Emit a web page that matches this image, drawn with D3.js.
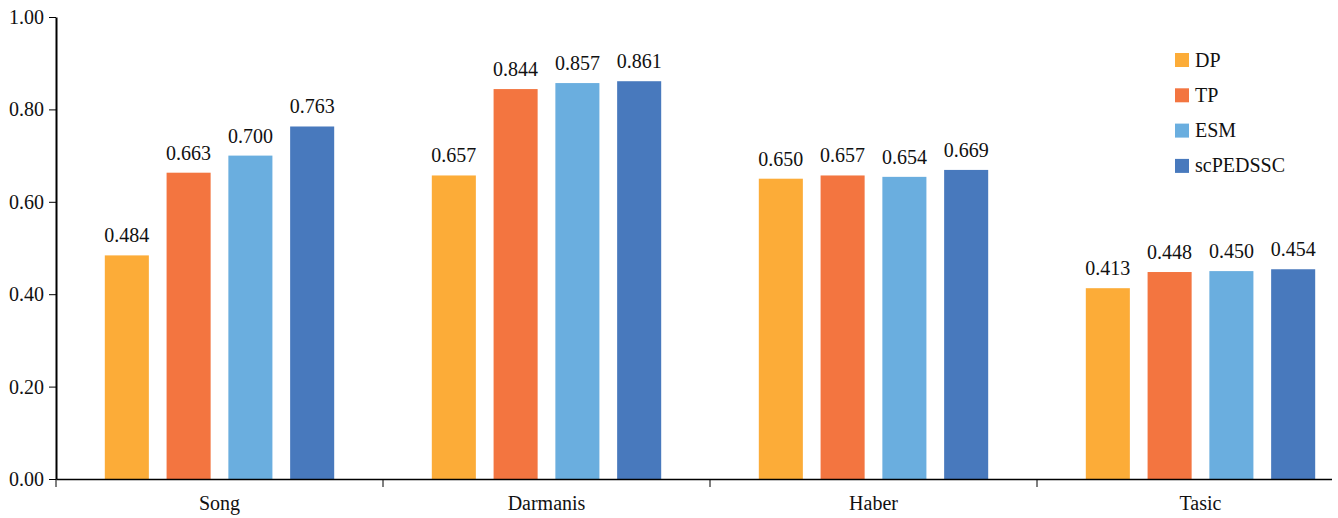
<!DOCTYPE html>
<html>
<head>
<meta charset="utf-8">
<script src="https://cdn.jsdelivr.net/npm/d3@7"></script>
<style>
  body { margin: 0; background: #fff; }
  svg { display: block; }
</style>
</head>
<body>
<svg></svg>
<script>
const categories = ["Song", "Darmanis", "Haber", "Tasic"];
const methods = ["DP", "TP", "ESM", "scPEDSSC"];
const DP = [0.484, 0.657, 0.650, 0.413];
const TP = [0.663, 0.844, 0.657, 0.448];
const ESM = [0.700, 0.857, 0.654, 0.450];
const scPEDSSC = [0.763, 0.861, 0.669, 0.454];
const yTicks = [0, 0.2, 0.4, 0.6, 0.8, 1.0];
const colors = ["#fcac38", "#f37540", "#6aaedf", "#4879bd"];

const series = [DP, TP, ESM, scPEDSSC];
const serif = "'Liberation Serif', 'Times New Roman', serif";

var w = 1332;
var h = 518;
const margin = { top: 17, bottom: 39, left: 56, right: 0 };
const innerHeight = h - margin.top - margin.bottom;

let svg = d3.select("svg")
  .attr("width", w)
  .attr("height", h)
  .style("overflow", "hidden");

// categories are 327px apart; the last band runs past the svg edge
let x0 = d3.scaleBand()
  .domain(categories)
  .range([margin.left, margin.left + 327 * 4]);

let x1 = d3.scaleBand()
  .domain(methods)
  .range([0, x0.bandwidth()])
  .paddingInner(0.287)
  .paddingOuter(0.79);

let yScale = d3.scaleLinear()
  .domain([0, 1])
  .range([margin.top + innerHeight, margin.top]);

// bars
categories.forEach(function(cat, ci) {
  let g = svg.append("g").attr("transform", `translate(${x0(cat)},0)`);
  methods.forEach(function(m, mi) {
    let v = series[mi][ci];
    g.append("rect")
      .attr("x", x1(m))
      .attr("y", yScale(v))
      .attr("width", x1.bandwidth())
      .attr("height", yScale(0) - yScale(v))
      .attr("fill", colors[mi]);
    g.append("text")
      .attr("x", x1(m) + x1.bandwidth() / 2)
      .attr("y", yScale(v) - 13)
      .attr("text-anchor", "middle")
      .style("font-family", serif)
      .style("font-size", "20px")
      .attr("fill", "#111")
      .text(v.toFixed(3));
  });
});

// y axis
let yAxisG = svg.append("g")
  .attr("transform", `translate(${margin.left},0)`)
  .call(d3.axisLeft(yScale).tickValues(yTicks).tickFormat(d3.format(".2f")).tickSize(7).tickSizeOuter(0).tickPadding(5));
yAxisG.select(".domain").attr("stroke-width", 2);
yAxisG.selectAll("text").style("font-size", "20px").style("font-family", serif).attr("fill", "#111");

// x axis
let xAxisG = svg.append("g")
  .attr("transform", `translate(0,${yScale(0)})`)
  .call(d3.axisBottom(x0).tickSize(0).tickSizeOuter(0).tickPadding(17));
xAxisG.select(".domain").attr("stroke-width", 1.5);
xAxisG.selectAll("text").style("font-size", "20px").style("font-family", serif).attr("fill", "#111");
// ticks at band boundaries
xAxisG.selectAll(".sep")
  .data(categories)
  .enter()
  .append("line")
  .attr("x1", d => x0(d))
  .attr("x2", d => x0(d))
  .attr("y1", 0)
  .attr("y2", 8)
  .attr("stroke", "#000");

// legend
let legend = svg.append("g").attr("transform", "translate(1175,53)");
methods.forEach(function(m, i) {
  legend.append("rect")
    .attr("x", 0)
    .attr("y", i * 35.3)
    .attr("width", 14)
    .attr("height", 14)
    .attr("fill", colors[i]);
  legend.append("text")
    .attr("x", 20)
    .attr("y", i * 35.3 + 13.5)
    .style("font-family", serif)
    .style("font-size", "20px")
    .attr("fill", "#111")
    .text(m);
});
</script>
</body>
</html>
